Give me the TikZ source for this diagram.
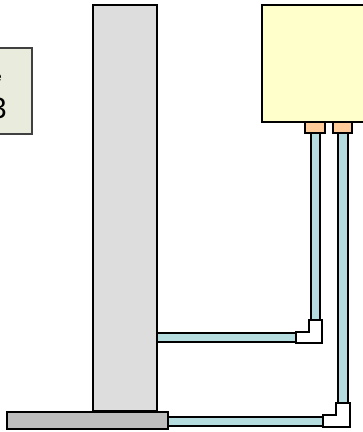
\documentclass[tikz,border=0pt]{standalone}
\usepackage{xcolor}
\usepackage{fontspec}
\setmainfont{Liberation Sans}
\definecolor{wallgray}{HTML}{DDDDDD}
\definecolor{basegray}{HTML}{BEBEBE}
\definecolor{boxyel}{HTML}{FFFFCC}
\definecolor{flng}{HTML}{FFCC99}
\definecolor{pipeblu}{HTML}{B5DDE0}
\definecolor{notegrn}{HTML}{E9ECDC}
\definecolor{notedge}{HTML}{404040}
\tikzset{part/.style={draw=black,line width=1.5pt,line join=miter}}
\begin{document}
\begin{tikzpicture}[x=0.75pt,y=-0.75pt]
  \useasboundingbox (0,0) rectangle (363,432);
  \clip (0,0) rectangle (363,432);
  % note, cut off by the left edge
  \filldraw[fill=notegrn,draw=notedge,line width=1pt] (-60,48) rectangle (32,134);
  \node[left,inner sep=0pt,font=\fontsize{10}{12}\selectfont] (noteunit) at (2,78) {e};
  \node[left,inner sep=0pt,font=\fontsize{22}{24}\selectfont] (noteval) at (7,108) {3};
  % wall and base
  \filldraw[part,fill=wallgray] (93,5) rectangle (157,411);
  \filldraw[part,fill=basegray] (7,412) rectangle (168,429);
  % box and flanges
  \filldraw[part,fill=boxyel] (262,5) rectangle (380,122);
  \filldraw[part,fill=flng] (305,122) rectangle (325,133);
  \filldraw[part,fill=flng] (333,122) rectangle (352,133);
  % pipes
  \filldraw[part,fill=pipeblu] (311,133) rectangle (320,320);
  \filldraw[part,fill=pipeblu] (338,133) rectangle (348,403);
  \filldraw[part,fill=pipeblu] (157,333) rectangle (296,342);
  \filldraw[part,fill=pipeblu] (168,417) rectangle (323,426);
  % elbows
  \filldraw[part,fill=white] (309,320) -- (322,320) -- (322,343) -- (296,343) -- (296,332) -- (309,332) -- cycle;
  \filldraw[part,fill=white] (336,403) -- (350,403) -- (350,427) -- (323,427) -- (323,415) -- (336,415) -- cycle;
\end{tikzpicture}
\end{document}
